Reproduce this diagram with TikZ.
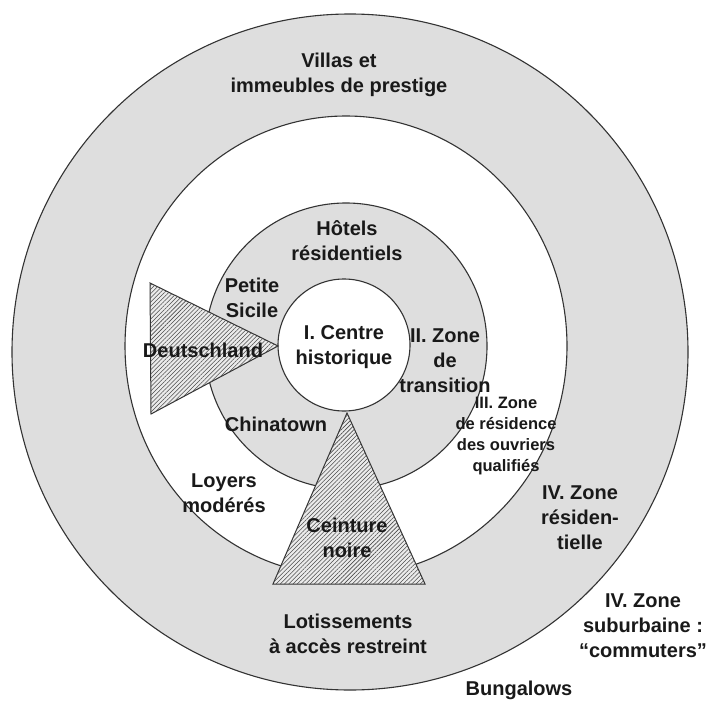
\documentclass[tikz,border=0pt]{standalone}
\usepackage{fontspec}
\setmainfont{Liberation Sans}
\usetikzlibrary{patterns.meta}
\begin{document}
\begin{tikzpicture}[x=1pt,y=-1pt,
  ring/.style={draw=black!80, line width=1.1pt},
  lbl/.style={font=\bfseries\fontsize{20}{25}\selectfont, align=center, inner sep=0pt, text=black!90},
  smalllbl/.style={font=\bfseries\fontsize{16.5}{21.3}\selectfont, align=center, inner sep=0pt, text=black!90},
  hatch/.style={draw=black!80, line width=1pt, fill=black!8,
    postaction={pattern={Lines[angle=45,distance=3pt,line width=0.55pt]}, pattern color=black!70}}]
\useasboundingbox (0,0) rectangle (708,703);
\fill[white] (0,0) rectangle (708,703);
% rings
\path[ring, fill=black!13] (350,352) circle[radius=338pt];
\path[ring, fill=white] (346,346) ellipse[x radius=221pt, y radius=230pt];
\path[ring, fill=black!13] (346,346) ellipse[x radius=141pt, y radius=143pt];
\path[ring, fill=white] (344,345) circle[radius=66pt];
% triangles
\coordinate (d1) at (150,283);
\coordinate (d2) at (151,414);
\coordinate (d3) at (278,346);
\path[hatch] (d1) -- (d3) -- (d2) -- cycle;
\coordinate (c1) at (347,413);
\coordinate (c2) at (273,584);
\coordinate (c3) at (425,584);
\path[hatch] (c1) -- (c3) -- (c2) -- cycle;
% labels
\node[lbl] (villas) at (339,75) {Villas et\\immeubles de prestige};
\node[lbl] (hotels) at (347,241) {Hôtels\\résidentiels};
\node[lbl] (sicile) at (252,298) {Petite\\Sicile};
\node[lbl] (deutsch) at (203,350) {Deutschland};
\node[lbl] (centre) at (344,347) {I. Centre\\historique};
\node[lbl] (transition) at (445,361) {II. Zone\\de\\transition};
\node[smalllbl] (ouvriers) at (506,436) {III. Zone\\de résidence\\des ouvriers\\qualifiés};
\node[lbl] (china) at (276,424) {Chinatown};
\node[lbl] (loyers) at (224,493) {Loyers\\modérés};
\node[lbl] (ceinture) at (347,538) {Ceinture\\noire};
\node[lbl] (lotis) at (348,634) {Lotissements\\à accès restreint};
\node[lbl] (resid) at (580,518) {IV. Zone\\résiden-\\tielle};
\node[lbl] (suburb) at (643,626) {IV. Zone\\suburbaine :\\“commuters”};
\node[lbl] (bung) at (519,690) {Bungalows};
\end{tikzpicture}
\end{document}
